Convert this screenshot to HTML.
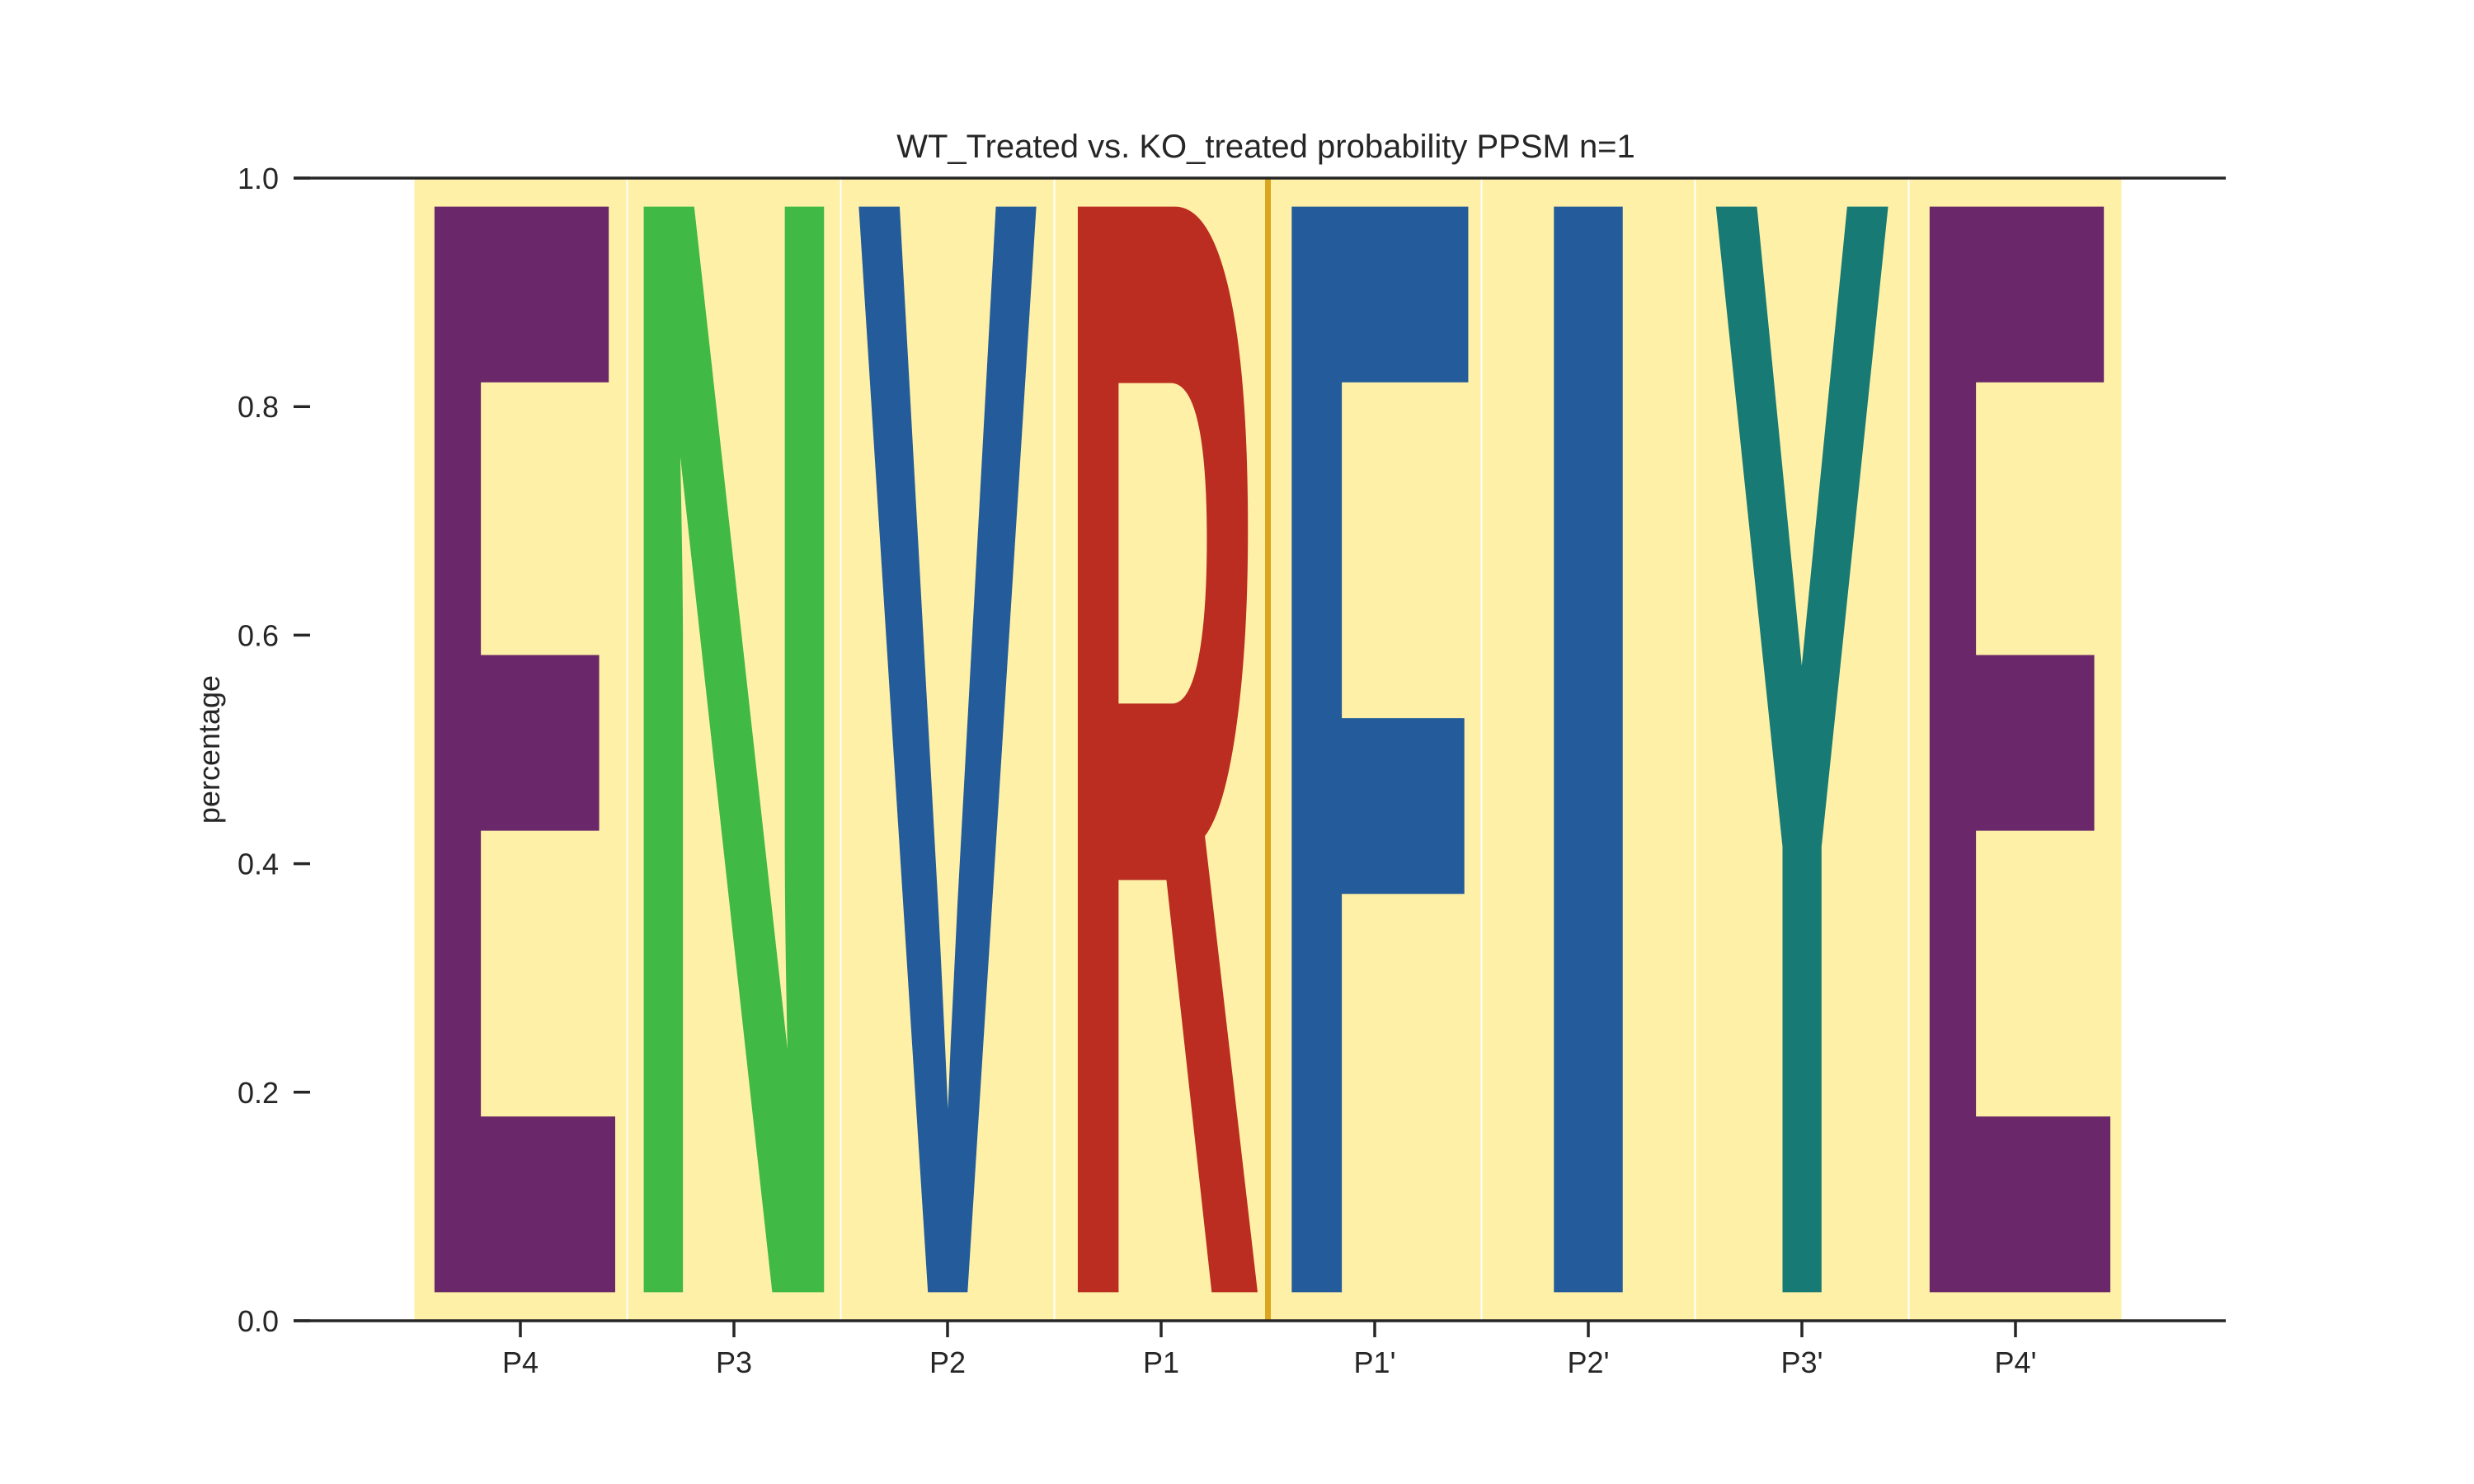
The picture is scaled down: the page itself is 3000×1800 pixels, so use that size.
<!DOCTYPE html>
<html>
<head>
<meta charset="utf-8">
<style>
html,body{margin:0;padding:0;background:#fff;width:3000px;height:1800px;overflow:hidden;}
svg{display:block;overflow:hidden;}
text{font-family:"Liberation Sans",sans-serif;fill:#262626;}
</style>
</head>
<body>
<svg id="chart" width="3000" height="1800" viewBox="0 0 3000 1800" xmlns="http://www.w3.org/2000/svg">
<defs><clipPath id="plotClip"><rect x="356" y="216" width="2343" height="1386"/></clipPath></defs>
<rect x="0" y="0" width="3000" height="1800" fill="#ffffff"/>
<g id="cols"></g>
<g id="letters" clip-path="url(#plotClip)"></g>
<g id="axes"></g>
<text x="1535" y="191" font-size="40" text-anchor="middle">WT_Treated vs. KO_treated probability PPSM n=1</text>
<text x="0" y="0" font-size="36" text-anchor="middle" transform="translate(266,909) rotate(-90)">percentage</text>
</svg>
<script>
const positions = ["P4","P3","P2","P1","P1'","P2'","P3'","P4'"];
const residues = ["E","N","V","R","F","I","Y","E"];
const probabilities = [1,1,1,1,1,1,1,1];
const yTicks = [0,0.2,0.4,0.6,0.8,1.0];
const yTickLabels = ["0.0","0.2","0.4","0.6","0.8","1.0"];

const NS = "http://www.w3.org/2000/svg";
const colorOf = {E:"#6a286a",N:"#40b945",V:"#235b9b",R:"#bb2d20",F:"#235b9b",I:"#235b9b",Y:"#177a74"};
const inkFrac = {E:0.835,N:0.81,V:0.99,R:0.877,F:0.844,I:0.50,Y:0.99};
const X0 = 356, X1 = 2699, Y0 = 1602, Y1 = 216;
const colW = 259, firstCenter = 631;
function xPos(i){ return firstCenter + i*colW; }
function yPos(v){ return Y0 - v*(Y0-Y1); }
function mk(tag, attrs, parent){ const e=document.createElementNS(NS,tag); for(const k in attrs) e.setAttribute(k,attrs[k]); parent.appendChild(e); return e; }

const colsG = document.getElementById('cols');
const lettersG = document.getElementById('letters');
const axesG = document.getElementById('axes');

positions.forEach((p,i)=>{
  const c = mk('rect',{x:xPos(i)-colW/2+1,y:Y1,width:colW-2,height:Y0-Y1,fill:"#fef0a6"},colsG);
  
  
});

positions.forEach((p,i)=>{
  const r = residues[i];
  const bottom = 0.025, h = probabilities[i]*0.95;
  const yb = yPos(bottom), yt = yPos(bottom+h);
  const fs = (yb-yt)/0.688;
  const boxW = colW*0.84;
  let ink = boxW;
  if(r==="I") ink = boxW*0.37;
  const tl = ink/inkFrac[r];
  const t = mk('text',{x:xPos(i),y:yb,"font-size":fs,"font-weight":"bold","text-anchor":"middle",textLength:tl,lengthAdjust:"spacingAndGlyphs",style:"fill:"+colorOf[r]},lettersG);
  t.textContent = r;
  
  
});

const divLine = mk('line',{x1:(xPos(3)+xPos(4))/2,x2:(xPos(3)+xPos(4))/2,y1:Y1,y2:Y0,stroke:"#daa520","stroke-width":7},axesG);



const topSpine = mk('line',{x1:X0,x2:X1,y1:Y1,y2:Y1,stroke:"#262626","stroke-width":3.5},axesG);


const bottomSpine = mk('line',{x1:X0,x2:X1,y1:Y0,y2:Y0,stroke:"#262626","stroke-width":3.5},axesG);



yTicks.forEach((v,i)=>{
  const tk = mk('line',{x1:X0,x2:X0+20,y1:yPos(v),y2:yPos(v),stroke:"#262626","stroke-width":3.5},axesG);
  
  
  const lb = mk('text',{x:338,y:yPos(v)+13,"font-size":36,"text-anchor":"end"},axesG);
  lb.textContent = yTickLabels[i];
  
  
});

positions.forEach((p,i)=>{
  const tk = mk('line',{x1:xPos(i),x2:xPos(i),y1:Y0,y2:Y0+20,stroke:"#262626","stroke-width":3.5},axesG);
  
  
  const lb = mk('text',{x:xPos(i),y:1665,"font-size":36,"text-anchor":"middle"},axesG);
  lb.textContent = p;
  
  
});
</script>
</body>
</html>
